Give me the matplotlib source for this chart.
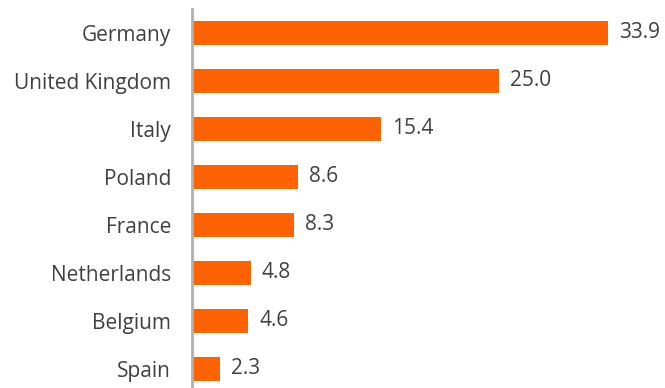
import matplotlib
matplotlib.use("Agg")
import matplotlib.pyplot as plt
from matplotlib.transforms import offset_copy

countries = ["Germany", "United Kingdom", "Italy", "Poland", "France", "Netherlands", "Belgium", "Spain"]
values = [33.9, 25.0, 15.4, 8.6, 8.3, 4.8, 4.6, 2.3]
value_labels = ["33.9", "25.0", "15.4", "8.6", "8.3", "4.8", "4.6", "2.3"]

W, H = 665, 388
fig = plt.figure(figsize=(W/100, H/100), dpi=100)
left, right, top, bottom = 192, 608, 9, 388
ax = fig.add_axes([left/W, 1 - bottom/H, (right-left)/W, (bottom-top)/H])

orange = "#FF6200"
text_color = "#404040"
font = "Open Sans"
fs = 15

y = list(range(len(countries)))
ax.barh(y, values, height=0.5, color=orange, edgecolor="none")
ax.set_xlim(0, 33.9)
ax.set_ylim(7.5 - (393-388)/48, -0.5)

for s in ["top", "right", "bottom"]:
    ax.spines[s].set_visible(False)
ax.spines["left"].set_color("#b0b0b0")
ax.spines["left"].set_linewidth(2)
ax.set_xticks([])
ax.set_yticks(y)
ax.set_yticklabels(countries, fontsize=fs, color=text_color, family=font)
ax.tick_params(axis="y", length=0, pad=15)

for yi, v, lab in zip(y, values, value_labels):
    tr = offset_copy(ax.transData, fig=fig, x=11, y=0, units="dots")
    ax.text(v, yi, lab, transform=tr, va="center", ha="left", fontsize=fs,
            color=text_color, family=font, clip_on=False)

fig.savefig("out.png", dpi=100)
